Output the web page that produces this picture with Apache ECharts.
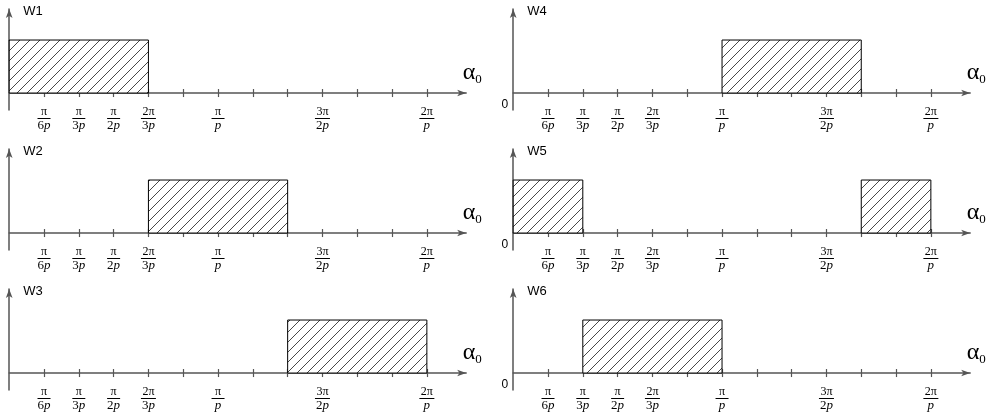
<!DOCTYPE html>
<html><head><meta charset="utf-8">
<script src="https://cdn.jsdelivr.net/npm/echarts@6/dist/echarts.min.js"></script>
<style>html,body{margin:0;padding:0;background:#fff}#c{width:995px;height:418px}</style>
</head><body><div id="c"></div>
<script>
// ---- data ----
const tickValues = [1, 2, 3, 4, 5, 6, 7, 8, 9, 10, 11, 12];
const labelValues = [1, 2, 3, 4, 6, 9, 12];
const labelNumerators = ['π', 'π', 'π', '2π', 'π', '3π', '2π'];
const labelDenominators = ['6', '3', '2', '3', '', '2', ''];
const panelNames = ['W1', 'W2', 'W3', 'W4', 'W5', 'W6'];
// [start, end, height] of each hatched block
const panelW1 = [[0, 4, 1]];
const panelW2 = [[4, 8, 1]];
const panelW3 = [[8, 12, 1]];
const panelW4 = [[6, 10, 1]];
const panelW5 = [[0, 2, 1], [10, 12, 1]];
const panelW6 = [[2, 6, 1]];
const panelData = [panelW1, panelW2, panelW3, panelW4, panelW5, panelW6];
const xMin = 0, xMax = 13.13, yMin = -0.32, yMax = 1.585;

// ---- styles ----
const AXIS_COLOR = '#555';
const SERIF = '"Liberation Serif", "Times New Roman", serif';
const SANS = '"Liberation Sans", Arial, sans-serif';

function makeHatch() {
  const c = document.createElement('canvas');
  c.width = 10; c.height = 10;
  const g = c.getContext('2d');
  g.fillStyle = '#fff'; g.fillRect(0, 0, 10, 10);
  g.strokeStyle = '#333'; g.lineWidth = 0.9;
  g.beginPath();
  g.moveTo(-1, 11); g.lineTo(11, -1);
  g.stroke();
  return c;
}
const hatch = { image: makeHatch(), repeat: 'repeat' };

function fracLabel(v) {
  const k = labelValues.indexOf(v);
  if (k < 0) return '';
  const num = labelNumerators[k];
  const den = labelDenominators[k];
  const bar = num.length > 1 ? '{bw| }' : '{b| }';
  return '{n|' + num + '}\n' + bar + '\n' + (den ? '{d|' + den + '}' : '') + '{p|p}';
}

const grids = [], xAxes = [], yAxes = [], series = [];
for (let i = 0; i < 6; i++) {
  const col = i < 3 ? 0 : 1;
  const row = i % 3;
  grids.push({ left: col ? 513.2 : 9.2, top: 9 + 140 * row, width: 457, height: 101, outerBoundsMode: 'none' });
  xAxes.push({
    gridIndex: i, type: 'value', min: xMin, max: xMax, position: 'bottom',
    axisLine: { show: true, onZero: true, onZeroAxisIndex: i, lineStyle: { color: AXIS_COLOR, width: 1.5 },
      symbol: ['none', 'arrow'], symbolSize: [5, 9] },
    axisTick: { show: true, customValues: tickValues, length: 4, lineStyle: { color: AXIS_COLOR, width: 1.2 } },
    axisLabel: {
      customValues: labelValues, formatter: fracLabel, margin: -4, color: '#000',
      rich: {
        n: { fontFamily: SERIF, fontSize: 12, lineHeight: 11, color: '#000' },
        b: { width: 13, height: 1, lineHeight: 3, backgroundColor: '#000' },
        bw: { width: 15, height: 1, lineHeight: 3, backgroundColor: '#000' },
        d: { fontFamily: SERIF, fontSize: 13, lineHeight: 12, color: '#000' },
        p: { fontFamily: SERIF, fontSize: 13, lineHeight: 12, fontStyle: 'italic', color: '#000' }
      }
    },
    splitLine: { show: false },
    name: '{a|α}{s|0}', nameLocation: 'end', nameGap: 6,
    nameTextStyle: {
      align: 'center', verticalAlign: 'bottom', padding: [0, 0, 7, 0],
      rich: {
        a: { fontFamily: SERIF, fontSize: 24, color: '#000', verticalAlign: 'bottom', padding: [0, 0, 1, 0] },
        s: { fontFamily: SERIF, fontSize: 13, color: '#000', verticalAlign: 'bottom' }
      }
    }
  });
  xAxes.push({
    gridIndex: i, type: 'value', min: xMin, max: xMax, position: 'bottom',
    axisLine: { show: true, onZero: true, onZeroAxisIndex: i, lineStyle: { opacity: 0 } },
    axisTick: { show: true, inside: true, customValues: tickValues, length: 4, lineStyle: { color: AXIS_COLOR, width: 1.2 } },
    axisLabel: { show: false },
    splitLine: { show: false }
  });
  yAxes.push({
    gridIndex: i, type: 'value', min: yMin, max: yMax, position: 'left',
    axisLine: { show: true, onZero: false, lineStyle: { color: AXIS_COLOR, width: 1.5 },
      symbol: ['none', 'arrow'], symbolSize: [5, 9] },
    axisTick: { show: false },
    splitLine: { show: false },
    axisLabel: { show: col === 1, customValues: [0], formatter: () => '0', margin: 5,
      verticalAlign: 'top', padding: [6, 0, 0, 0], fontFamily: SANS, fontSize: 12, color: '#000' },
    name: panelNames[i], nameLocation: 'end', nameGap: 4.5,
    nameTextStyle: { align: 'left', verticalAlign: 'top', padding: [0, 0, 0, 14],
      fontFamily: SANS, fontSize: 13, color: '#000' }
  });
  series.push({
    type: 'custom', xAxisIndex: 2 * i, yAxisIndex: i, data: panelData[i],
    encode: { x: [0, 1], y: 2 },
    renderItem: function (params, api) {
      const p0 = api.coord([api.value(0), 0]);
      const p1 = api.coord([api.value(1), api.value(2)]);
      return {
        type: 'rect',
        shape: { x: p0[0], y: p1[1], width: p1[0] - p0[0], height: p0[1] - p1[1] },
        style: { fill: hatch, stroke: '#000', lineWidth: 1 }
      };
    },
    silent: true, z: 3
  });
}

const chart = echarts.init(document.getElementById('c'), null, { renderer: 'canvas' });
chart.setOption({
  backgroundColor: '#fff',
  animation: false,
  grid: grids, xAxis: xAxes, yAxis: yAxes, series: series
});
</script>
</body></html>
